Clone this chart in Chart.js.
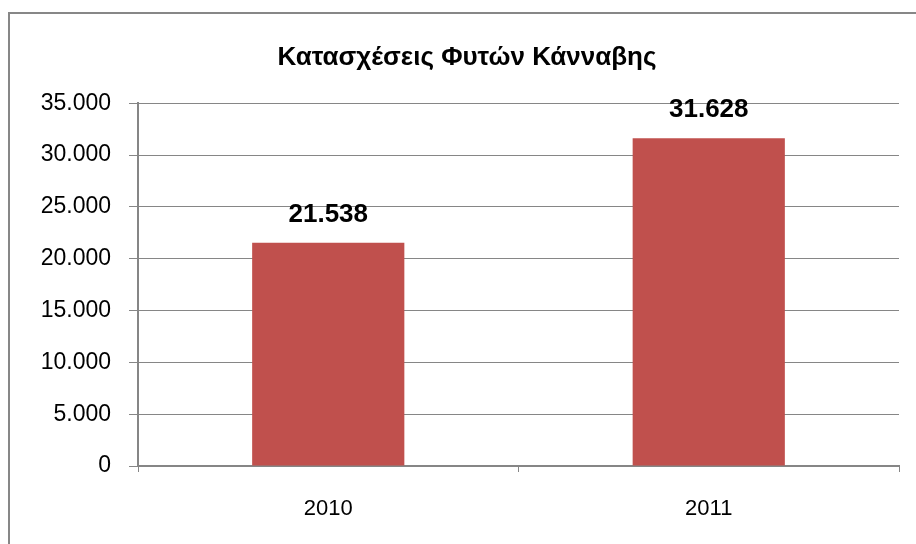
<!DOCTYPE html>
<html>
<head>
<meta charset="utf-8">
<script src="https://cdn.jsdelivr.net/npm/chart.js@4.4.0/dist/chart.umd.min.js"></script>
<style>
  html, body { margin: 0; padding: 0; background: #fff; overflow: hidden; }
  .frame { position: absolute; left: 8px; top: 12px; width: 1000px; height: 1000px; border: 2px solid #878787; }
  .chart-container { position: absolute; left: 0; top: 0; width: 916px; height: 544px; }
</style>
</head>
<body>
<div class="frame"></div>
<div class="chart-container"><canvas id="chart"></canvas></div>
<script>
const title = 'Κατασχέσεις Φυτών Κάνναβης';
const years = ['2010', '2011'];
const seizures = [21538, 31628];
const yTicks = [0, 5000, 10000, 15000, 20000, 25000, 30000, 35000];

const fontFamily = '"Liberation Sans", Arial, sans-serif';
const gray = '#868686';

// 5000 -> "5.000"
const fmt = v => String(v).replace(/\B(?=(\d{3})+(?!\d))/g, '.');

const valueLabels = {
  id: 'valueLabels',
  afterDatasetsDraw(chart) {
    const ctx = chart.ctx;
    const meta = chart.getDatasetMeta(0);
    ctx.save();
    ctx.font = 'bold 26px ' + fontFamily;
    ctx.fillStyle = '#000';
    ctx.textAlign = 'center';
    ctx.textBaseline = 'middle';
    meta.data.forEach((bar, i) => {
      ctx.fillText(fmt(seizures[i]), bar.x, bar.y - 28);
    });
    ctx.restore();
  }
};

new Chart(document.getElementById('chart'), {
  type: 'bar',
  data: {
    labels: years,
    datasets: [{
      data: seizures,
      backgroundColor: '#C0504D',
      barPercentage: 0.4,
      categoryPercentage: 1
    }]
  },
  options: {
    responsive: true,
    maintainAspectRatio: false,
    animation: false,
    // left padding keeps the title centred on the frame, not the canvas
    layout: { padding: { left: 35, right: 17, top: 0, bottom: 0 } },
    plugins: {
      legend: { display: false },
      tooltip: { enabled: false },
      title: {
        display: true,
        text: title,
        color: '#000',
        font: { family: fontFamily, size: 26, weight: 'bold', lineHeight: 1.2 },
        padding: { top: 42, bottom: 30 }
      }
    },
    scales: {
      x: {
        grid: { drawOnChartArea: false, color: gray, tickLength: 6, offset: true },
        border: { color: gray, width: 2 },
        ticks: { color: '#000', font: { family: fontFamily, size: 22 }, padding: 24 },
        afterFit(scale) { scale.height = 78; }
      },
      y: {
        min: 0,
        max: 35000,
        afterBuildTicks(scale) { scale.ticks = yTicks.map(v => ({ value: v })); },
        grid: { color: gray, lineWidth: 1, tickLength: 9 },
        border: { color: gray, width: 2 },
        ticks: { color: '#000', font: { family: fontFamily, size: 23 }, padding: 18, callback: v => fmt(v) },
        afterFit(scale) { scale.width = 103; }
      }
    }
  },
  plugins: [valueLabels]
});
</script>
</body>
</html>
